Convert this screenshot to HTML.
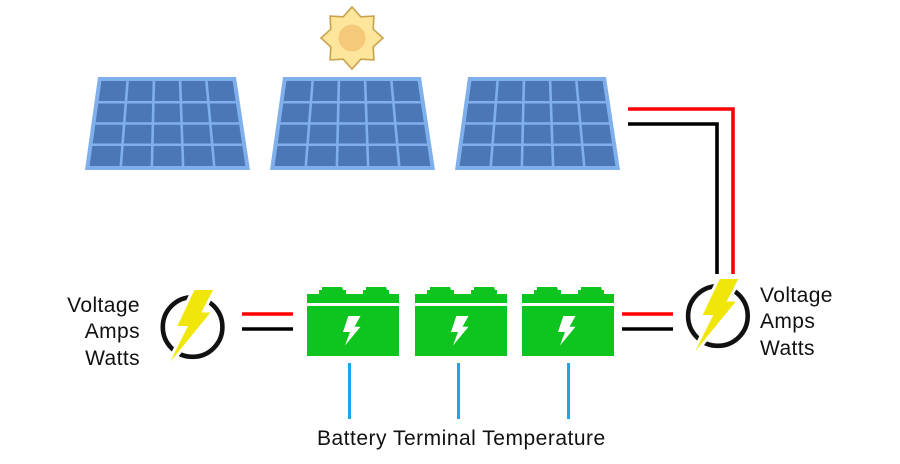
<!DOCTYPE html>
<html>
<head>
<meta charset="utf-8">
<style>
  html, body { margin:0; padding:0; background:#ffffff; }
  svg { display:block; }
  text { font-family: "Liberation Sans", Arial, sans-serif; fill:#111; }
</style>
</head>
<body>
<svg width="900" height="464" viewBox="0 0 900 464" xmlns="http://www.w3.org/2000/svg">
  <rect width="900" height="464" fill="#ffffff"/>

  <defs>
    <g id="panel">
      <polygon points="98,77 236,77 250,170 85,170" fill="#7fb0ec"/>
      <polygon points="101.4,81 232.6,81 245.4,166 89.6,166" fill="#4b78b4"/>
      <g stroke="#7fb0ec" stroke-width="2.6" fill="none">
        <line x1="127.6" y1="81" x2="120.8" y2="166"/>
        <line x1="153.9" y1="81" x2="151.9" y2="166"/>
        <line x1="180.1" y1="81" x2="183.1" y2="166"/>
        <line x1="206.4" y1="81" x2="214.2" y2="166"/>
        <line x1="98.4" y1="102.25" x2="235.8" y2="102.25"/>
        <line x1="95.5" y1="123.5" x2="239.0" y2="123.5"/>
        <line x1="92.5" y1="144.75" x2="242.2" y2="144.75"/>
      </g>
    </g>
    <g id="battery">
      <polygon points="322,287 342,287 343,290 346,290 346,294 319,294 319,290 322,290" fill="#0ec41e"/>
      <polygon points="366,287 386,287 387,290 389,290 389,294 363,294 363,290 366,290" fill="#0ec41e"/>
      <rect x="307" y="294" width="92" height="9" fill="#0ec41e"/>
      <rect x="307" y="306" width="92" height="50" fill="#0ec41e"/>
      <polygon points="348.3,316 360.5,316 354.5,326.7 360.5,326.7 345,345.5 350,332 343,332" fill="#ffffff"/>
    </g>
    <g id="meter">
      <circle cx="192.6" cy="327" r="29.8" fill="none" stroke="#111" stroke-width="4.6"/>
      <polygon points="194.5,290 213,290 201.3,312.5 210.5,312.5 170,362 188,326 177.4,326" fill="#ffffff" stroke="#ffffff" stroke-width="6" stroke-linejoin="round"/>
      <polygon points="194.5,290 213,290 201.3,312.5 210.5,312.5 170,362 188,326 177.4,326" fill="#f0e60a"/>
    </g>
  </defs>

  <!-- Panels -->
  <use href="#panel"/>
  <use href="#panel" transform="translate(185,0)"/>
  <use href="#panel" transform="translate(370,0)"/>

  <!-- Sun -->
  <polygon points="352,7 360.8,16.75 373.9,16.1 373.25,29.2 383,38 373.25,46.8 373.9,59.9 360.8,59.25 352,69 343.2,59.25 330.1,59.9 330.75,46.8 321,38 330.75,29.2 330.1,16.1 343.2,16.75"
           fill="#fde59c" stroke="#c8a24c" stroke-width="1.6" stroke-linejoin="miter"/>
  <circle cx="352" cy="38" r="13.5" fill="#f5c97a"/>

  <!-- Panel wires -->
  <path d="M628 109 H733 V274" fill="none" stroke="#ff0000" stroke-width="3.6"/>
  <path d="M628 124 H717 V274" fill="none" stroke="#000000" stroke-width="3.6"/>

  <!-- Batteries -->
  <use href="#battery"/>
  <use href="#battery" transform="translate(108,0)"/>
  <use href="#battery" transform="translate(215,0)"/>

  <!-- Blue sensor lines -->
  <g stroke="#1ba6ea" stroke-width="3">
    <line x1="349.5" y1="363" x2="349.5" y2="419"/>
    <line x1="458.5" y1="363" x2="458.5" y2="419"/>
    <line x1="568.5" y1="363" x2="568.5" y2="419"/>
  </g>

  <!-- Short wires -->
  <g stroke-width="3.6">
    <line x1="242" y1="314" x2="293" y2="314" stroke="#ff0000"/>
    <line x1="242" y1="329" x2="293" y2="329" stroke="#000000"/>
    <line x1="622" y1="314" x2="673" y2="314" stroke="#ff0000"/>
    <line x1="622" y1="329" x2="673" y2="329" stroke="#000000"/>
  </g>

  <!-- Meters -->
  <use href="#meter"/>
  <use href="#meter" transform="translate(525.3,-11)"/>

  <!-- Labels -->
  <g font-size="21" letter-spacing="0.4">
    <text x="140" y="312" text-anchor="end">Voltage</text>
    <text x="140" y="338" text-anchor="end">Amps</text>
    <text x="140" y="365" text-anchor="end">Watts</text>
    <text x="760" y="302">Voltage</text>
    <text x="760" y="328">Amps</text>
    <text x="760" y="355">Watts</text>
  </g>
  <text x="317" y="445" font-size="21" letter-spacing="0.5">Battery Terminal Temperature</text>
</svg>
</body>
</html>
